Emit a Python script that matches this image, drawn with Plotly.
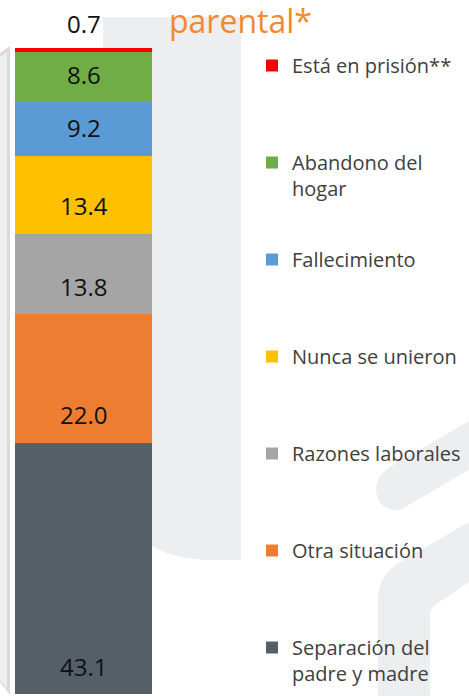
import plotly.graph_objects as go
import numpy as np

# ---- data ----
categories = ["Separación del padre y madre", "Otra situación", "Razones laborales",
              "Nunca se unieron", "Fallecimiento", "Abandono del hogar", "Está en prisión**"]
legend_labels = ["Separación del<br>padre y madre", "Otra situación<br>\u00a0", "Razones laborales<br>\u00a0",
                 "Nunca se unieron<br>\u00a0", "Fallecimiento<br>\u00a0", "Abandono del<br>hogar",
                 "Está en prisión**<br>\u00a0"]
values = [43.1, 22.0, 13.8, 13.4, 9.2, 8.6, 0.7]
value_labels = ["43.1", "22.0", "13.8", "13.4", "9.2", "8.6", "0.7"]
colors = ["#545F67", "#ED7D31", "#A5A5A5", "#FFC000", "#5B9BD5", "#70AD47", "#FF0000"]
title_text = "parental*"

W, H = 469, 696
FONT = "Open Sans"

fig = go.Figure()
n = len(values)
for i, (cat, lab, v, c) in enumerate(zip(categories, legend_labels, values, colors)):
    fig.add_trace(go.Bar(x=[0], y=[v], name=lab, marker=dict(color=c, line=dict(width=0)),
                         width=1, legendgroup=str(i), legendrank=n - i, hoverinfo="name+y"))

bases = np.cumsum([0] + values[:-1])
annotations = []
for b, t in zip(bases, value_labels):
    annotations.append(dict(x=0, y=b, xref="x", yref="y", text=t, showarrow=False,
                            yanchor="middle", yshift=28,
                            font=dict(family=FONT, size=24, color="#111111")))
annotations.append(dict(x=167 / W, y=1 - 20 / H, xref="paper", yref="paper", text=title_text,
                        showarrow=False, xanchor="left", yanchor="middle",
                        font=dict(family=FONT, size=32, color="#F08A2D")))


def P(pts):
    return [(x / W, 1 - y / H) for x, y in pts]


def path(cmds):
    out = []
    for cmd, pts in cmds:
        s = " ".join(f"{x:.5f},{y:.5f}" for x, y in P(pts))
        out.append(f"{cmd} {s}")
    return " ".join(out) + " Z"


bg = "#EDEEF0"
shapes = [
    dict(type="path", xref="paper", yref="paper", layer="below", line=dict(width=0), fillcolor=bg,
         path=path([("M", [(103, 17)]), ("L", [(241, 17)]), ("L", [(241, 560)]), ("L", [(205, 560)]),
                    ("Q", [(170, 558), (150, 545)]), ("L", [(103, 545)])])),
    dict(type="path", xref="paper", yref="paper", layer="below", line=dict(width=0), fillcolor=bg,
         path=path([("M", [(469, 421)]), ("L", [(398, 462)]), ("Q", [(375, 475), (376, 490)]),
                    ("Q", [(378, 511), (400, 510)]), ("L", [(469, 470)])])),
    dict(type="path", xref="paper", yref="paper", layer="below", line=dict(width=0), fillcolor=bg,
         path=path([("M", [(469, 522)]), ("L", [(400, 562)]), ("Q", [(378, 575), (378, 600)]),
                    ("L", [(378, 696)]), ("L", [(430, 696)]), ("L", [(430, 615)]),
                    ("Q", [(430, 607), (438, 603)]), ("L", [(469, 582)])])),
    dict(type="path", xref="paper", yref="paper", layer="below", line=dict(width=0), fillcolor="#DADADA",
         path=path([("M", [(0, 53)]), ("L", [(10, 46)]), ("L", [(10, 695)]), ("L", [(0, 682)])])),
    dict(type="path", xref="paper", yref="paper", layer="below", line=dict(width=0), fillcolor="#EFEFEF",
         path=path([("M", [(0, 57)]), ("L", [(7, 52)]), ("L", [(7, 689)]), ("L", [(0, 680)])])),
]

fig.update_layout(
    width=W, height=H,
    margin=dict(l=0, r=0, t=0, b=0),
    barmode="stack",
    paper_bgcolor="white",
    plot_bgcolor="rgba(0,0,0,0)",
    xaxis=dict(domain=[15 / W, 152 / W], range=[-0.5, 0.5], visible=False, fixedrange=True),
    yaxis=dict(range=[-0.3, 119.0], visible=False, fixedrange=True),
    showlegend=True,
    legend=dict(x=252 / W, xanchor="left", y=1 - 46 / H, yanchor="top",
                traceorder="grouped", tracegroupgap=42, valign="top",
                bgcolor="rgba(0,0,0,0)", borderwidth=0,
                font=dict(family=FONT, size=20, color="#404040")),
    annotations=annotations,
    shapes=shapes,
)

fig.write_html("out.html", config={"displayModeBar": False},
               post_script="document.body.style.margin='0';")
